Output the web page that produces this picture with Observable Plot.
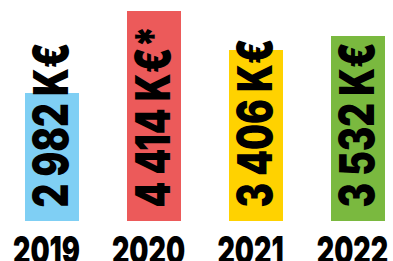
<!DOCTYPE html>
<html>
<head>
<meta charset="utf-8">
<script src="https://cdn.jsdelivr.net/npm/d3@7"></script>
<script src="https://cdn.jsdelivr.net/npm/@observablehq/plot@0.6"></script>
<style>
  html, body { margin: 0; padding: 0; background: #ffffff; overflow: hidden; }
  svg { display: block; }
</style>
</head>
<body>
<script>
// Data
const years = ["2019", "2020", "2021", "2022"];
const amounts = [2982, 4414, 3406, 3532];            // K€
const notes = ["", "*", "", ""];                       // footnote marker
const barLevels = [128, 210, 171, 185];               // drawn bar heights (bars are not to scale with amounts)
const barColors = ["#7fcff4", "#ec5a5a", "#ffd200", "#7ab93f"];

const fmt = d3.formatLocale({decimal: ",", thousands: "\u00a0", grouping: [3], currency: ["", " €"]}).format(",d");
const rows = years.map((y, i) => ({
  year: y,
  level: barLevels[i],
  label: fmt(amounts[i]) + "\u00a0K€" + notes[i],
  color: barColors[i]
}));

const FONT = "Inter, 'Noto Sans', sans-serif";

const chart = Plot.plot({
  width: 393,
  height: 261,
  marginLeft: 23,
  marginRight: 6,
  marginTop: 0,
  marginBottom: 40,
  style: {background: "#ffffff", fontFamily: FONT},
  x: {domain: years, paddingInner: 0.466, paddingOuter: 0, axis: null},
  y: {domain: [0, 221], axis: null},
  marks: [
    Plot.barY(rows, {x: "year", y: "level", fill: "color"}),
    Plot.text(rows, {
      x: "year", y: 0, text: "label", rotate: -90,
      textAnchor: "start", lineAnchor: "middle",
      dy: -14, fontSize: 48, fontWeight: 900, fill: "#000"
    }),
    Plot.text(rows, {
      x: "year", y: 0, text: "year",
      textAnchor: "middle", lineAnchor: "top",
      dx: -6, dy: 15, fontSize: 39, fontWeight: 900, fill: "#000"
    })
  ]
});
document.body.appendChild(chart);

// Condense the heavy type like the reference
function squeeze(group, refIndex, target) {
  if (!group) return;
  const texts = Array.from(group.querySelectorAll("text"));
  if (!texts.length) return;
  const ref = texts[refIndex].getComputedTextLength();
  const k = target / ref;
  texts.forEach(t => {
    const w = t.getComputedTextLength();
    t.setAttribute("textLength", (w * k).toFixed(1));
    t.setAttribute("lengthAdjust", "spacingAndGlyphs");
  });
}
const groups = chart.querySelectorAll('g[aria-label="text"]');
squeeze(groups[0], 0, 165);
squeeze(groups[1], 0, 67);
</script>
</body>
</html>
